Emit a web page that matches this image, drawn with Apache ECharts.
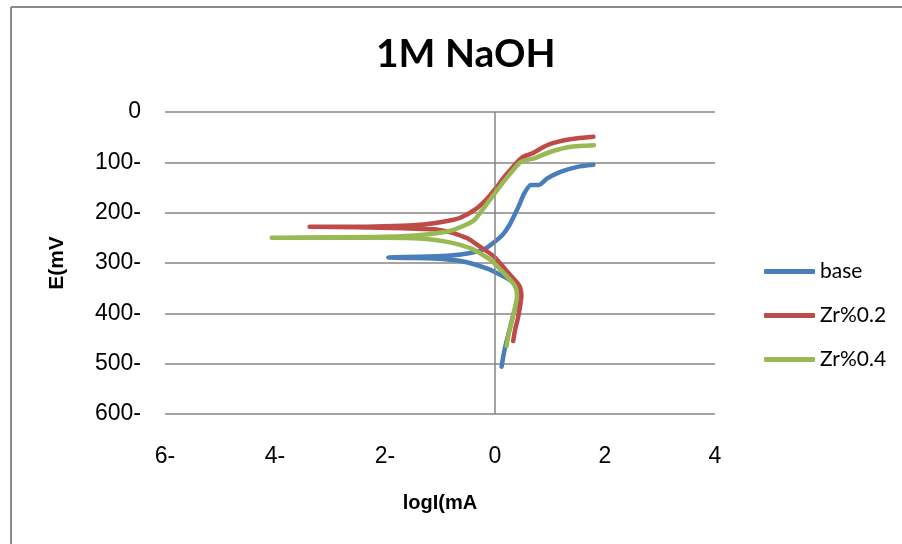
<!DOCTYPE html>
<html lang="en">
<head>
    <meta charset="UTF-8">
    <title>1M NaOH</title>
    <script src="https://cdn.jsdelivr.net/npm/echarts@6/dist/echarts.min.js"></script>
    <style>
        html, body { margin: 0; padding: 0; background: #fff; }
    </style>
</head>
<body>
<div id="chartmain" style="width: 902px; height: 544px;"></div>
</body>
<script type="text/javascript">
    // series names
    var seriesNames = ['base', 'Zr%0.2', 'Zr%0.4'];

    // base: logI and E, from the bottom of the cathodic branch up through the tip
    var baseLogI = [0.12, 0.16, 0.2, 0.27, 0.34, 0.42, 0.46, 0.43, 0.34, 0.16, -0.14, -0.63, -1.11, -1.6, -1.94,
        -1.6, -1.2, -0.81, -0.45, -0.2, -0.08, 0.06, 0.16, 0.26, 0.34, 0.44, 0.53, 0.65, 0.8, 0.95, 1.19, 1.5, 1.79];
    var baseE = [-506, -480, -460, -430, -400, -375, -360, -348, -339, -327, -311, -296, -291, -290, -289,
        -288, -287, -285, -280, -273, -264, -252, -241, -225, -208, -185, -162, -145, -145, -132, -119, -109, -105];

    // Zr%0.2
    var zr2LogI = [0.33, 0.37, 0.41, 0.45, 0.48, 0.46, 0.41, 0.22, -0.02, -0.32, -0.5, -0.69, -0.81, -1.11, -1.66, -2.5, -3.37,
        -2.5, -2.02, -1.5, -1.11, -0.8, -0.63, -0.35, -0.14, 0.04, 0.16, 0.28, 0.4, 0.5, 0.68, 0.89, 1.05, 1.26, 1.5, 1.79];
    var zr2E = [-455, -430, -413, -390, -365, -350, -340, -317, -287, -264, -251, -243, -239, -233, -231, -229, -228,
        -228, -227, -225, -221, -215, -210, -193, -172, -148, -130, -115, -100, -90, -82, -69, -62, -56, -52, -49];

    // Zr%0.4
    var zr4LogI = [0.21, 0.25, 0.31, 0.36, 0.4, 0.37, 0.22, -0.08, -0.44, -0.87, -1.3, -2, -3, -4.06,
        -3, -2, -1.3, -0.81, -0.55, -0.38, -0.2, 0.04, 0.28, 0.47, 0.71, 1.01, 1.38, 1.8];
    var zr4E = [-465, -440, -413, -390, -367, -347, -327, -294, -271, -258, -252, -250, -250, -250,
        -249, -248, -244, -236, -225, -215, -190, -155, -122, -99, -92, -79, -69, -66];

    var colors = ['#4a7ebb', '#be4b48', '#98b954'];

    function pairs(xs, ys) {
        var out = [];
        for (var i = 0; i < xs.length; i++) {
            out.push([xs[i], ys[i]]);
        }
        return out;
    }

    // ticks shown as "600-" instead of "-600"
    function tickLabel(v) {
        if (v === 0) return '0';
        return v < 0 ? Math.abs(v) + '-' : String(v);
    }

    var myChart = echarts.init(document.getElementById('chartmain'));

    var lineStyle = function (c) {
        return { color: c, width: 4.5, cap: 'round', join: 'round' };
    };

    var option = {
        animation: false,
        color: colors,
        title: {
            text: '1M NaOH',
            left: 371,
            top: 30,
            textStyle: { fontFamily: 'Lato', fontWeight: 'bold', fontSize: 39, color: '#000' }
        },
        legend: {
            orient: 'vertical',
            left: 759,
            top: 256,
            itemWidth: 51,
            itemHeight: 5,
            itemGap: 23,
            icon: 'roundRect',
            data: seriesNames,
            textStyle: { fontFamily: 'Lato', fontSize: 21, color: '#000', lineHeight: 21 }
        },
        grid: { left: 165, right: 187, top: 112, bottom: 130 },
        xAxis: {
            type: 'value',
            min: -6,
            max: 4,
            interval: 2,
            name: 'logI(mA',
            nameLocation: 'middle',
            nameGap: 79,
            nameTextStyle: { fontFamily: 'Liberation Sans', fontWeight: 'bold', fontSize: 20, color: '#000' },
            axisLine: { show: false, onZero: false },
            axisTick: { show: false },
            splitLine: { show: false },
            axisLabel: {
                margin: 31,
                formatter: tickLabel,
                fontFamily: 'Liberation Sans',
                fontSize: 23,
                color: '#000'
            }
        },
        yAxis: {
            type: 'value',
            min: -600,
            max: 0,
            interval: 100,
            name: 'E(mV',
            nameLocation: 'middle',
            nameGap: 97,
            nameTextStyle: { fontFamily: 'Liberation Sans', fontWeight: 'bold', fontSize: 21, color: '#000' },
            axisLine: { show: false },
            axisTick: { show: false },
            splitLine: { show: true, lineStyle: { color: '#868686', width: 1.5 } },
            axisLabel: {
                margin: 24,
                formatter: tickLabel,
                fontFamily: 'Liberation Sans',
                fontSize: 23,
                color: '#000'
            }
        },
        graphic: [
            { type: 'line', shape: { x1: 11, y1: 7, x2: 902, y2: 7 }, style: { stroke: '#8a8a8a', lineWidth: 2 } },
            { type: 'line', shape: { x1: 11, y1: 7, x2: 11, y2: 544 }, style: { stroke: '#8a8a8a', lineWidth: 2 } }
        ],
        series: [
            {
                name: seriesNames[0],
                type: 'line',
                data: pairs(baseLogI, baseE),
                showSymbol: false,
                smooth: 0.2,
                lineStyle: lineStyle(colors[0]),
                z: 3,
                markLine: {
                    silent: true,
                    symbol: 'none',
                    label: { show: false },
                    lineStyle: { color: '#868686', width: 1.5, type: 'solid' },
                    data: [{ xAxis: 0 }]
                }
            },
            {
                name: seriesNames[1],
                type: 'line',
                data: pairs(zr2LogI, zr2E),
                showSymbol: false,
                smooth: 0.2,
                lineStyle: lineStyle(colors[1]),
                z: 4
            },
            {
                name: seriesNames[2],
                type: 'line',
                data: pairs(zr4LogI, zr4E),
                showSymbol: false,
                smooth: 0.2,
                lineStyle: lineStyle(colors[2]),
                z: 5
            }
        ]
    };

    myChart.setOption(option);
</script>
</html>
